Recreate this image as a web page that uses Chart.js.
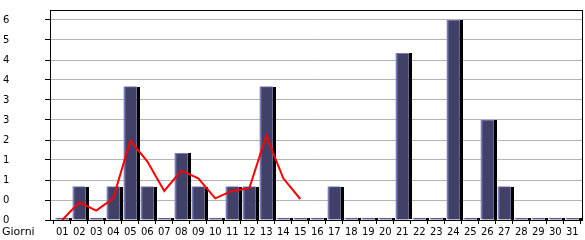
<!DOCTYPE html>
<html>
<head>
<meta charset="utf-8">
<script src="https://cdn.jsdelivr.net/npm/chart.js@4/dist/chart.umd.min.js"></script>
<style>
  html, body { margin: 0; padding: 0; background: #fff; }
  #c { display: block; }
</style>
</head>
<body>
<canvas id="c" width="585" height="240"></canvas>
<script>
// --- dati ---
const giorni = ['01','02','03','04','05','06','07','08','09','10','11','12','13','14','15','16',
                '17','18','19','20','21','22','23','24','25','26','27','28','29','30','31'];
const visite = [0, 1, 0, 1, 4, 1, 0, 2, 1, 0, 1, 1, 4, 0, 0, 0,
                1, 0, 0, 0, 5, 0, 0, 6, 0, 3, 1, 0, 0, 0, 0];
// linea rossa (solo giorni 01-15)
const media = [0, 0.53, 0.28, 0.65, 2.38, 1.76, 0.87, 1.48, 1.25, 0.65, 0.88, 0.95, 2.53, 1.25, 0.63];
// tacche asse y
const yTickValues = [0, 0.6, 1.2, 1.8, 2.4, 3, 3.6, 4.2, 4.8, 5.4, 6];
const yTickLabels = ['0', '0', '1', '1', '2', '3', '3', '4', '4', '5', '6'];

const FONT = { family: 'DejaVu Sans', size: 10 };

// ombra nera a destra delle barre (il bar element fa clip sul suo rettangolo)
const ombra = {
    id: 'ombra',
    afterDatasetDraw(chart, args) {
        if (args.meta.type !== 'bar') return;
        const ctx = chart.ctx;
        ctx.save();
        ctx.fillStyle = '#000';
        args.meta.data.forEach(el => {
            const p = el.getProps(['x', 'y', 'base', 'width'], true);
            const top = Math.min(p.y, p.base);
            ctx.fillRect(Math.round(p.x + p.width / 2), Math.round(top), 3, Math.round(Math.abs(p.base - p.y)));
        });
        ctx.restore();
    }
};

// cornice + etichetta "Giorni"
const cornice = {
    id: 'cornice',
    afterDraw(chart) {
        const { ctx, chartArea: a } = chart;
        ctx.save();
        ctx.strokeStyle = '#000';
        ctx.lineWidth = 1;
        ctx.strokeRect(a.left + 0.5, a.top + 0.5, a.right - a.left, a.bottom - a.top);
        ctx.fillStyle = '#000';
        ctx.font = '11px "DejaVu Sans"';
        ctx.textBaseline = 'top';
        ctx.textAlign = 'left';
        ctx.fillText('Giorni', 2, a.bottom + 7);
        ctx.restore();
    }
};

new Chart(document.getElementById('c'), {
    type: 'bar',
    data: {
        datasets: [
            {
                type: 'line',
                order: 0,
                data: media.map((v, i) => ({ x: i, y: v })),
                borderColor: '#ff0000',
                borderWidth: 2,
                pointRadius: 0,
                tension: 0,
                fill: false
            },
            {
                type: 'bar',
                order: 1,
                data: visite.map((v, i) => ({ x: i, y: v })),
                backgroundColor: '#404068',
                borderColor: '#7a7ab8',
                borderWidth: { left: 2, top: 1, right: 0, bottom: 0 },
                borderSkipped: false,
                barThickness: 13,
                minBarLength: 2
            }
        ]
    },
    options: {
        responsive: false,
        animation: false,
        devicePixelRatio: 1,
        layout: { padding: { top: 10, right: 3, left: 3, bottom: 0 } },
        plugins: { legend: { display: false }, tooltip: { enabled: false } },
        scales: {
            x: {
                type: 'linear',
                offset: false,
                min: -0.72,
                max: 30.57,
                afterFit(s) { s.height = 20; },
                afterBuildTicks(s) { s.ticks = giorni.map((g, i) => ({ value: i })); },
                grid: { drawOnChartArea: false, tickLength: 4, tickColor: '#000' },
                border: { color: '#000', width: 1 },
                ticks: {
                    autoSkip: false,
                    maxRotation: 0,
                    padding: 2,
                    color: '#000',
                    font: FONT,
                    callback: (v, i) => giorni[i]
                }
            },
            y: {
                min: 0,
                max: 6.3,
                afterFit(s) { s.width = 47; },
                afterBuildTicks(s) { s.ticks = yTickValues.map(v => ({ value: v })); },
                grid: { color: '#b4b4b4', tickColor: '#000', tickLength: 5 },
                border: { color: '#000', width: 1 },
                ticks: {
                    crossAlign: 'far',
                    color: '#000',
                    font: FONT,
                    callback: (v, i) => yTickLabels[i]
                }
            }
        }
    },
    plugins: [ombra, cornice]
});
</script>
</body>
</html>
